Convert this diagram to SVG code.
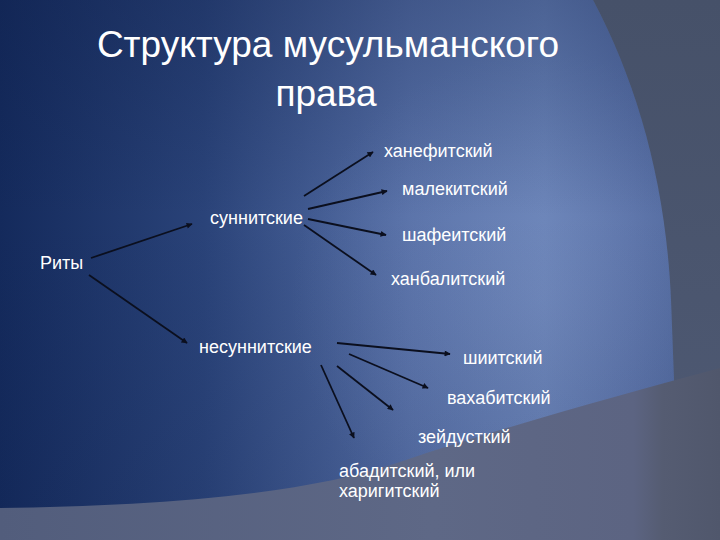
<svg xmlns="http://www.w3.org/2000/svg" width="720" height="540" viewBox="0 0 720 540">
  <defs>
    <linearGradient id="slate" x1="0" y1="0" x2="0" y2="1">
      <stop offset="0" stop-color="#465169"/>
      <stop offset="1" stop-color="#4f5a74"/>
    </linearGradient>
    <linearGradient id="blue" x1="0" y1="0" x2="680" y2="0" gradientUnits="userSpaceOnUse">
      <stop offset="0" stop-color="#142a5c"/>
      <stop offset="0.3" stop-color="#2a4379"/>
      <stop offset="0.6" stop-color="#566fa6"/>
      <stop offset="0.8" stop-color="#6680b5"/>
      <stop offset="0.93" stop-color="#5870a6"/>
      <stop offset="1" stop-color="#4f679c"/>
    </linearGradient>
    <radialGradient id="glow" cx="540" cy="300" r="250" gradientUnits="userSpaceOnUse">
      <stop offset="0" stop-color="#8fa2d0" stop-opacity="0.25"/>
      <stop offset="1" stop-color="#8fa2d0" stop-opacity="0"/>
    </radialGradient>
    <linearGradient id="topshade" x1="0" y1="0" x2="0" y2="1">
      <stop offset="0" stop-color="#0e1e48" stop-opacity="0.3"/>
      <stop offset="0.4" stop-color="#0e1e48" stop-opacity="0"/>
      <stop offset="1" stop-color="#0e1e48" stop-opacity="0.15"/>
    </linearGradient>
    <linearGradient id="bottom" x1="0" y1="0" x2="720" y2="0" gradientUnits="userSpaceOnUse">
      <stop offset="0" stop-color="#525d7c"/>
      <stop offset="0.6" stop-color="#5e6886"/>
      <stop offset="0.88" stop-color="#5c6482"/>
      <stop offset="0.92" stop-color="#555c72"/>
      <stop offset="1" stop-color="#50576c"/>
    </linearGradient>
    <marker id="arr" viewBox="0 0 10 10" refX="9" refY="5" markerWidth="7" markerHeight="6" markerUnits="userSpaceOnUse" orient="auto">
      <path d="M0,0 L10,5 L0,10 Z" fill="#0b0f1e"/>
    </marker>
    <style>
      .lbl { font-family: "Liberation Sans", Arial, sans-serif; font-size: 18px; fill: #ffffff; }
      .title { font-family: "Liberation Sans", Arial, sans-serif; font-size: 37px; fill: #ffffff; text-anchor: middle; }
      .conn line { stroke: #0b0f1e; stroke-width: 1.8; marker-end: url(#arr); }
    </style>
  </defs>

  <g id="background">
    <rect x="0" y="0" width="720" height="540" fill="url(#slate)"/>
    <path d="M0,0 L593,0 C638,85 666,185 671,300 L680,540 L0,540 Z" fill="url(#blue)"/>
    <path d="M0,0 L593,0 C638,85 666,185 671,300 L680,540 L0,540 Z" fill="url(#glow)"/>
    <path d="M0,0 L593,0 C638,85 666,185 671,300 L680,540 L0,540 Z" fill="url(#topshade)"/>
    <path d="M0,508 C150,506 300,496 400,462 C500,428 620,395 720,368 L720,540 L0,540 Z" fill="url(#bottom)"/>
  </g>

  <g id="title">
    <text class="title" x="328" y="57">Структура мусульманского</text>
    <text class="title" x="326" y="106">права</text>
  </g>

  <g id="connectors" class="conn">
    <line x1="91" y1="258" x2="192" y2="224"/>
    <line x1="89" y1="275" x2="187" y2="343"/>
    <line x1="304" y1="196" x2="373" y2="152"/>
    <line x1="308" y1="209" x2="387" y2="191"/>
    <line x1="308" y1="219" x2="386" y2="235"/>
    <line x1="304" y1="225" x2="376" y2="275"/>
    <line x1="337" y1="343" x2="450" y2="354"/>
    <line x1="349" y1="354" x2="428" y2="388"/>
    <line x1="337" y1="366" x2="393" y2="410"/>
    <line x1="321" y1="365" x2="354" y2="438"/>
  </g>

  <g id="node-rity"><text class="lbl" x="40" y="269">Риты</text></g>
  <g id="node-sunni"><text class="lbl" x="210" y="224">суннитские</text></g>
  <g id="node-nesunni"><text class="lbl" x="199" y="353">несуннитские</text></g>
  <g id="node-hanefit"><text class="lbl" x="384" y="157">ханефитский</text></g>
  <g id="node-malekit"><text class="lbl" x="402" y="195">малекитский</text></g>
  <g id="node-shafeit"><text class="lbl" x="402" y="241">шафеитский</text></g>
  <g id="node-hanbalit"><text class="lbl" x="391" y="285">ханбалитский</text></g>
  <g id="node-shiit"><text class="lbl" x="463" y="364">шиитский</text></g>
  <g id="node-vahabit"><text class="lbl" x="447" y="404">вахабитский</text></g>
  <g id="node-zeidust"><text class="lbl" x="418" y="443">зейдусткий</text></g>
  <g id="node-abadit">
    <text class="lbl" x="339" y="477">абадитский, или</text>
    <text class="lbl" x="339" y="497">харигитский</text>
  </g>
</svg>
